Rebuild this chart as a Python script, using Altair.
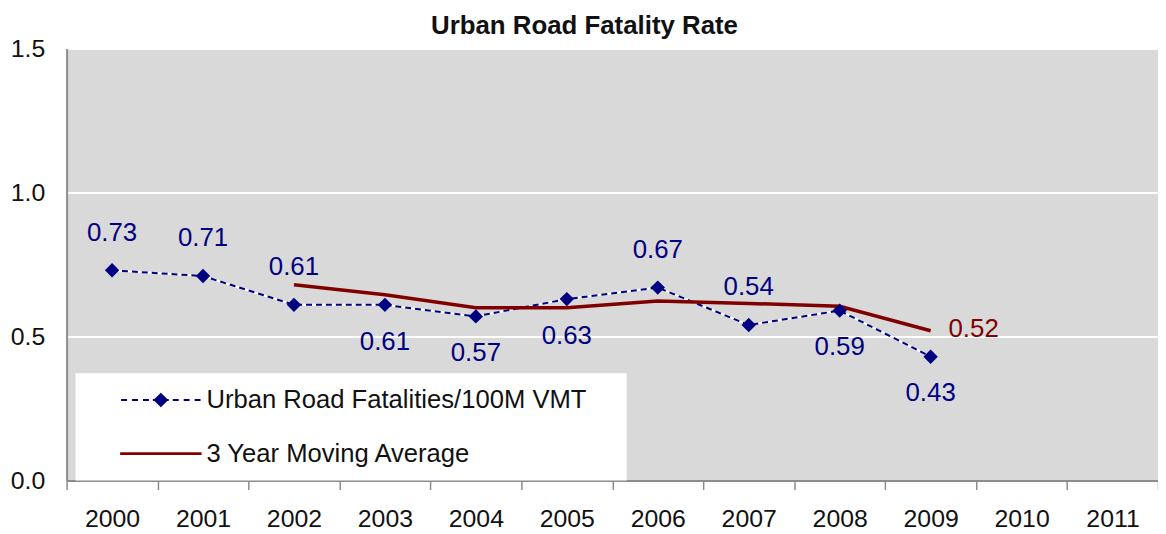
import altair as alt
import pandas as pd

FONT = "Liberation Sans"

# ---- data ----
years = ["2000", "2001", "2002", "2003", "2004", "2005",
         "2006", "2007", "2008", "2009", "2010", "2011"]
rate_years = ["2000", "2001", "2002", "2003", "2004",
              "2005", "2006", "2007", "2008", "2009"]
rate_values = [0.73, 0.71, 0.61, 0.61, 0.57, 0.63, 0.67, 0.54, 0.59, 0.43]
rate_label_side = ["above", "above", "above", "below", "below",
                   "below", "above", "above", "below", "below"]
ma_years = ["2002", "2003", "2004", "2005", "2006", "2007", "2008", "2009"]
ma_values = [0.68, 0.645, 0.60, 0.60, 0.623, 0.615, 0.605, 0.52]
series_names = ["Urban Road Fatalities/100M VMT", "3 Year Moving Average"]
series_colors = ["#000080", "#800000"]

# legend symbols (custom SVG paths; 1 unit = 10 px at symbolSize 400)
legend_shapes = [
    "M-4,0H-3.4M-2.9,0H-2.3M-1.8,0H-1.2M-0.8,0H-0.5"
    "M0.5,0H0.8M1.2,0H1.8M2.3,0H2.9M3.4,0H4"
    "M-0.6,0L0,-0.6L0.6,0L0,0.6Z",
    "M-4,-0.05H4V0.05H-4Z",
]

rate_df = pd.DataFrame({"year": rate_years, "value": rate_values,
                        "side": rate_label_side, "series": series_names[0]})
ma_df = pd.DataFrame({"year": ma_years, "value": ma_values,
                      "side": "right", "series": series_names[1]})
df = pd.concat([rate_df, ma_df], ignore_index=True)

x_enc = alt.X(
    "year:O",
    scale=alt.Scale(type="band", domain=years, paddingInner=0, paddingOuter=0,
                    round=False),
    axis=alt.Axis(title=None, labelAngle=0, tickBand="extent", tickSize=9,
                  tickColor="#8c8c8c", tickWidth=1.5, domainColor="#8c8c8c",
                  domainWidth=2, labelFont=FONT, labelFontSize=25,
                  labelColor="#111111", labelPadding=17, grid=False),
)
y_enc = alt.Y(
    "value:Q",
    scale=alt.Scale(domain=[0, 1.5], nice=False),
    axis=alt.Axis(title=None, values=[0, 0.5, 1.0, 1.5], format=".1f",
                  ticks=False, domainColor="#8c8c8c", domainWidth=2,
                  grid=True, gridColor="white", gridWidth=2,
                  labelFont=FONT, labelFontSize=25, labelColor="#111111",
                  labelPadding=22),
)

base = alt.Chart(df).encode(x=x_enc, y=y_enc)
rate = base.transform_filter(alt.datum.series == series_names[0])
ma = base.transform_filter(alt.datum.series == series_names[1])

rate_under = rate.mark_line(color="white", strokeWidth=2)
rate_line = rate.mark_line(color=series_colors[0], strokeWidth=2, strokeDash=[6, 4])
ma_line = ma.mark_line(color=series_colors[1], strokeWidth=3.5)
diamonds = rate.mark_point(shape="diamond", filled=True, size=210,
                           color=series_colors[0], opacity=1)

txt = alt.Text("value:Q", format=".2f")
above = rate.transform_filter(alt.datum.side == "above").mark_text(
    dy=-38, font=FONT, fontSize=26, color=series_colors[0]).encode(text=txt)
below = rate.transform_filter(alt.datum.side == "below").mark_text(
    dy=37, font=FONT, fontSize=26, color=series_colors[0]).encode(text=txt)
ma_label = ma.transform_filter(alt.datum.year == ma_years[-1]).mark_text(
    align="left", dx=18, dy=-2, font=FONT, fontSize=26,
    color=series_colors[1]).encode(text=txt)

leg = alt.Legend(
    title="\u2003", titleOrient="right", titlePadding=26, titleFontSize=4,
    orient="none", legendX=9, legendY=327, fillColor="white",
    padding=14, symbolSize=400, symbolStrokeWidth=2, symbolOffset=59,
    labelOffset=33, labelFont=FONT, labelFontSize=25.8, labelColor="#111111",
    labelLimit=1000, rowPadding=27, symbolOpacity=1,
)
legend_layer = base.transform_filter("false").mark_point(strokeWidth=2, opacity=1).encode(
    shape=alt.Shape("series:N", scale=alt.Scale(domain=series_names, range=legend_shapes), legend=leg),
    fill=alt.Fill("series:N", scale=alt.Scale(domain=series_names, range=series_colors), legend=leg),
    stroke=alt.Stroke("series:N", scale=alt.Scale(domain=series_names, range=series_colors), legend=leg),
)

chart = alt.layer(
    rate_under, rate_line, ma_line, diamonds, above, below, ma_label, legend_layer
).properties(
    width=1099, height=435,
    title=alt.TitleParams("Urban Road Fatality Rate", font=FONT, fontSize=26,
                          fontWeight="bold", color="#111111", anchor="middle",
                          frame="bounds", offset=-2),
    padding={"left": 59, "top": 39, "right": 0, "bottom": 50},
    autosize=alt.AutoSizeParams(type="none"),
).configure(background="white").configure_view(fill="#D9D9D9", stroke=None)

chart.save("out.html", embed_options={"renderer": "svg", "actions": False})
